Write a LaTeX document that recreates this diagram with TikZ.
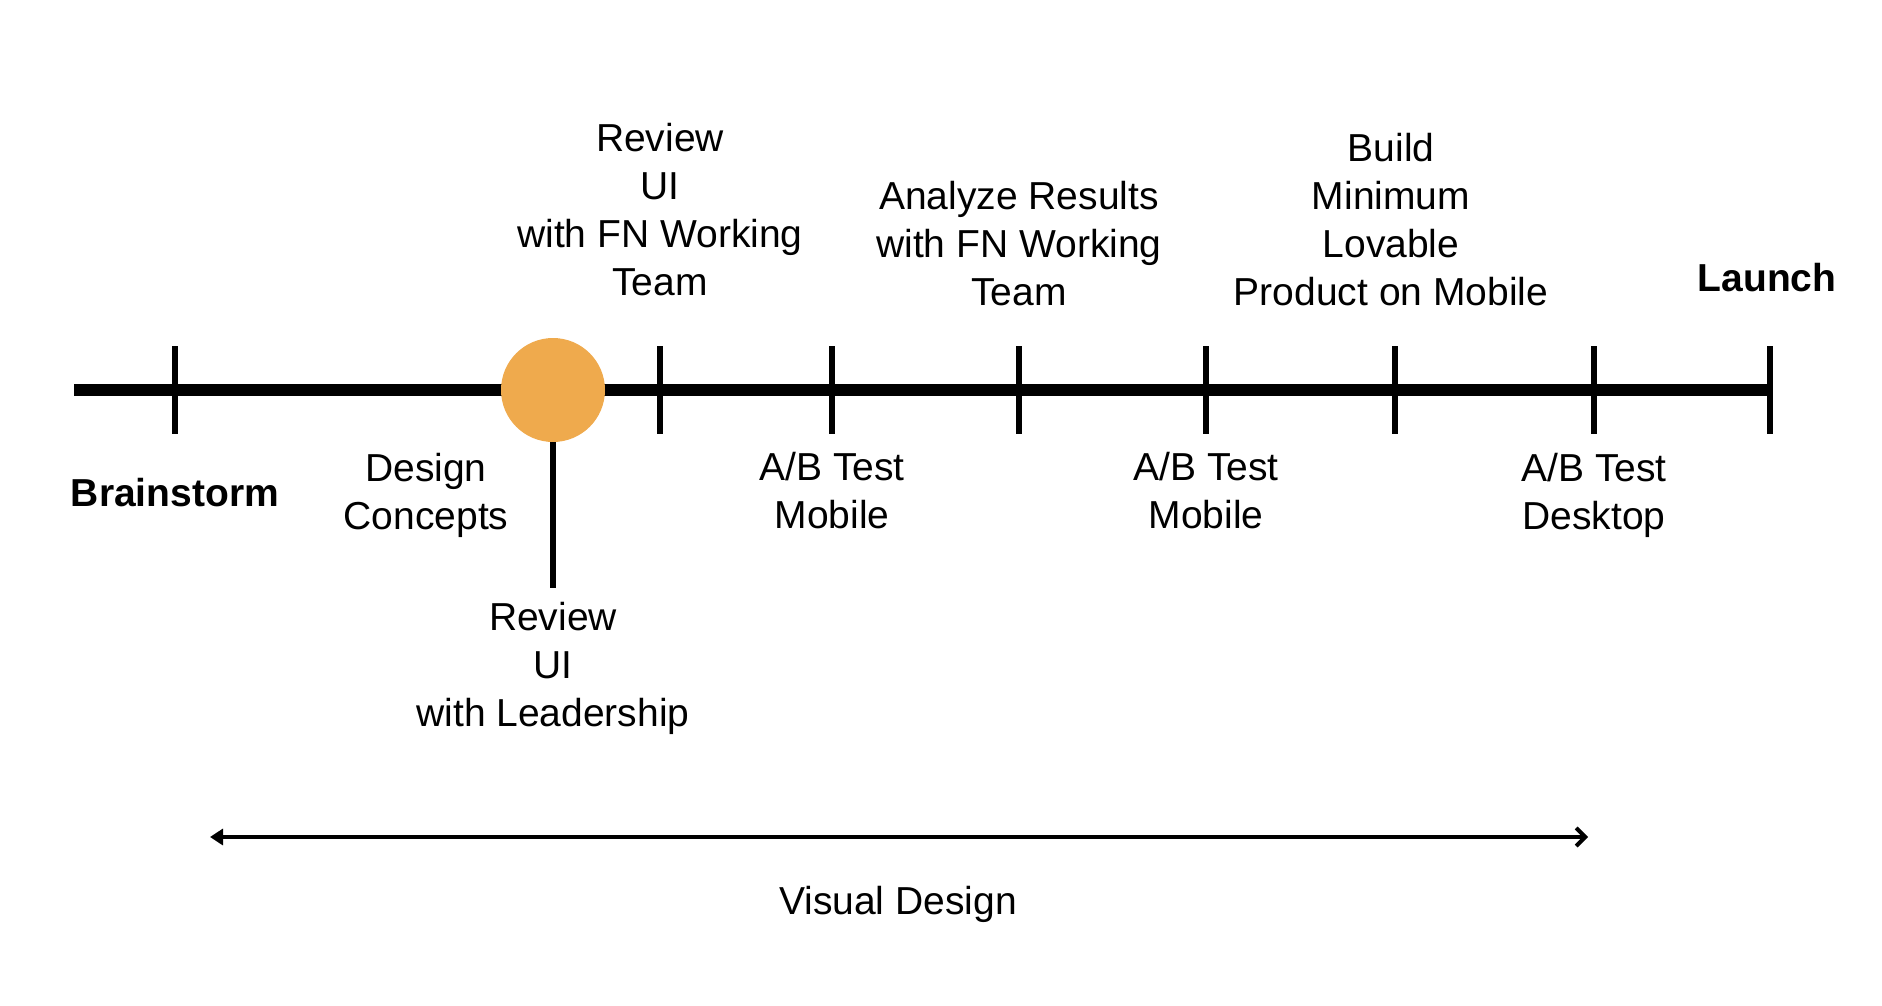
\documentclass[tikz,border=0pt]{standalone}
\usepackage{fontspec}
\setmainfont{Liberation Sans}
\usetikzlibrary{arrows.meta}
\definecolor{milestone}{RGB}{239,170,77}
\tikzset{
  lbl/.style={align=center, inner sep=0pt, font=\fontsize{39}{48}\selectfont},
  blbl/.style={lbl, font=\fontsize{39}{48}\selectfont\bfseries},
  axis/.style={line width=11.5pt, black},
  tick/.style={line width=6.5pt, black},
  span/.style={line width=4pt, black, {Triangle[width=16pt,length=13pt]}-{Straight Barb[width=18pt,length=9pt,line width=4pt]}}
}
\begin{document}
\begin{tikzpicture}[x=1pt,y=-1pt]
\useasboundingbox (0,0) rectangle (1882,1006);
% main line
\coordinate (L0) at (74,390);
\coordinate (L1) at (1770,390);
\draw[axis] (L0) -- (L1);
% ticks
\foreach \i/\x in {1/175,2/660,3/832,4/1019,5/1206,6/1395,7/1594,8/1770}{
  \coordinate (ta\i) at (\x,346);
  \coordinate (tb\i) at (\x,434);
  \draw[tick] (ta\i) -- (tb\i);
}
% milestone circle
\node[circle, fill=milestone, minimum size=104pt, inner sep=0pt] (c) at (553,390) {};
\coordinate (cl) at (553,588);
\draw[tick] (c.south) -- (cl);
% labels above
\node[lbl] (rev1) at (660,210) {Review\\UI\\with FN Working\\Team};
\node[lbl] (ana) at (1019,244) {Analyze Results\\with FN Working\\Team};
\node[lbl] (build) at (1391,220) {Build\\Minimum\\Lovable\\Product on Mobile};
\node[blbl] (launch) at (1767,278) {Launch};
% labels below
\node[blbl] (brain) at (175,493) {Brainstorm};
\node[lbl] (dc) at (426,495) {Design\\Concepts};
\node[lbl] (ab1) at (832,491) {A/B Test\\Mobile};
\node[lbl] (ab2) at (1206,491) {A/B Test\\Mobile};
\node[lbl] (ab3) at (1594,495) {A/B Test\\Desktop};
\node[lbl] (rev2) at (553,668) {Review\\UI\\with Leadership};
% visual design span
\coordinate (a1) at (210,837);
\coordinate (a2) at (1588,837);
\draw[span] (a1) -- (a2);
\node[lbl] (vd) at (898,904) {Visual Design};
\end{tikzpicture}
\end{document}
